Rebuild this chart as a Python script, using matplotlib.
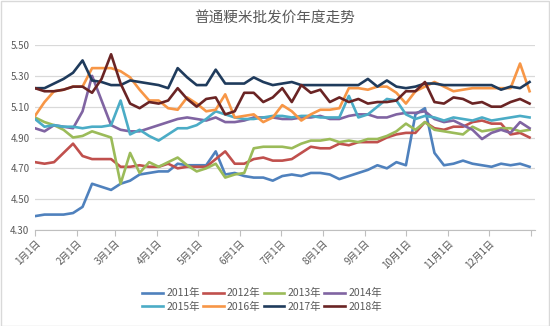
import matplotlib
matplotlib.use("Agg")
import matplotlib.pyplot as plt
from matplotlib.patches import Rectangle

plt.rcParams['font.family'] = ['Noto Sans CJK SC', 'DejaVu Sans']

title = "普通粳米批发价年度走势"

# weekly observations, day-of-year = 7 * index
years = ["2011年", "2012年", "2013年", "2014年", "2015年", "2016年", "2017年", "2018年"]

p2011 = [4.39, 4.40, 4.40, 4.40, 4.41, 4.45, 4.60, 4.58, 4.56, 4.60, 4.62, 4.66, 4.67, 4.68,
         4.68, 4.73, 4.72, 4.72, 4.72, 4.81, 4.66, 4.67, 4.65, 4.64, 4.64, 4.62, 4.65, 4.66,
         4.65, 4.67, 4.67, 4.66, 4.63, 4.65, 4.67, 4.69, 4.72, 4.70, 4.74, 4.72, 5.05, 5.09,
         4.80, 4.72, 4.73, 4.75, 4.73, 4.72, 4.71, 4.73, 4.72, 4.73, 4.71]
p2012 = [4.74, 4.73, 4.74, 4.80, 4.86, 4.78, 4.76, 4.76, 4.76, 4.71, 4.71, 4.72, 4.71, 4.71,
         4.73, 4.70, 4.71, 4.71, 4.71, 4.76, 4.81, 4.73, 4.73, 4.76, 4.77, 4.75, 4.75, 4.76,
         4.80, 4.84, 4.83, 4.83, 4.86, 4.85, 4.87, 4.87, 4.87, 4.90, 4.92, 4.93, 4.93, 5.00,
         4.96, 4.95, 4.97, 4.97, 5.00, 5.01, 4.99, 4.99, 4.92, 4.93, 4.90]
p2013 = [5.03, 5.00, 4.98, 4.95, 4.90, 4.91, 4.94, 4.92, 4.90, 4.60, 4.80, 4.67, 4.74, 4.71,
         4.74, 4.77, 4.72, 4.68, 4.70, 4.73, 4.64, 4.66, 4.67, 4.83, 4.84, 4.84, 4.84, 4.83,
         4.86, 4.88, 4.88, 4.89, 4.87, 4.88, 4.87, 4.89, 4.89, 4.91, 4.94, 4.99, 4.95, 5.00,
         4.95, 4.94, 4.93, 4.92, 4.97, 4.94, 4.95, 4.96, 4.96, 4.94, 4.95]
p2014 = [4.96, 4.94, 4.98, 4.97, 4.96, 5.07, 5.30, 5.14, 4.98, 4.95, 4.94, 4.94, 4.96, 4.98,
         5.00, 5.02, 5.03, 5.02, 5.01, 5.03, 5.00, 5.00, 5.01, 5.03, 5.03, 5.03, 5.02, 5.02,
         5.03, 5.03, 5.04, 5.02, 5.02, 5.04, 5.05, 5.05, 5.03, 5.03, 5.05, 5.06, 5.06, 5.07,
         5.02, 5.00, 5.01, 4.98, 4.95, 4.89, 4.93, 4.95, 4.93, 5.00, 4.96]
p2015 = [5.02, 4.97, 4.98, 4.97, 4.97, 4.96, 4.97, 4.97, 4.98, 5.14, 4.92, 4.95, 4.91, 4.88,
         4.92, 4.96, 4.96, 4.98, 5.02, 5.07, 5.05, 5.03, 5.02, 5.02, 5.03, 5.04, 5.04, 5.03,
         5.04, 5.04, 5.03, 5.03, 5.03, 5.17, 5.03, 5.05, 5.10, 5.15, 5.14, 5.05, 5.02, 5.04,
         5.03, 5.01, 5.03, 5.02, 5.01, 5.03, 5.01, 5.02, 5.03, 5.04, 5.03]
p2016 = [5.04, 5.13, 5.20, 5.21, 5.23, 5.23, 5.35, 5.35, 5.35, 5.33, 5.29, 5.21, 5.14, 5.14,
         5.09, 5.08, 5.16, 5.12, 5.07, 5.08, 5.18, 5.03, 5.04, 5.05, 5.00, 5.03, 5.11, 5.07,
         5.01, 5.05, 5.08, 5.08, 5.09, 5.22, 5.22, 5.21, 5.23, 5.23, 5.19, 5.12, 5.20, 5.23,
         5.26, 5.23, 5.20, 5.21, 5.22, 5.22, 5.22, 5.22, 5.22, 5.38, 5.20]
p2017 = [5.22, 5.22, 5.25, 5.28, 5.32, 5.40, 5.27, 5.26, 5.24, 5.24, 5.27, 5.26, 5.25, 5.24,
         5.22, 5.35, 5.29, 5.24, 5.24, 5.34, 5.25, 5.25, 5.25, 5.29, 5.26, 5.24, 5.25, 5.26,
         5.24, 5.24, 5.24, 5.24, 5.24, 5.24, 5.24, 5.28, 5.23, 5.27, 5.23, 5.22, 5.23, 5.25,
         5.25, 5.24, 5.24, 5.24, 5.24, 5.24, 5.24, 5.21, 5.23, 5.22, 5.26]
p2018 = [5.22, 5.20, 5.20, 5.21, 5.23, 5.23, 5.19, 5.28, 5.44, 5.25, 5.12, 5.09, 5.13, 5.12,
         5.14, 5.22, 5.15, 5.10, 5.15, 5.16, 5.05, 5.07, 5.19, 5.19, 5.13, 5.16, 5.22, 5.13,
         5.24, 5.19, 5.21, 5.13, 5.16, 5.13, 5.15, 5.12, 5.13, 5.13, 5.14, 5.20, 5.20, 5.26,
         5.13, 5.12, 5.16, 5.15, 5.12, 5.13, 5.10, 5.10, 5.13, 5.15, 5.12]

series = [p2011, p2012, p2013, p2014, p2015, p2016, p2017, p2018]
colors = ["#4F81BD", "#C0504D", "#9BBB59", "#8064A2", "#4BACC6", "#F79646", "#1F3B5C", "#6A2424"]

month_days = [0, 31, 59, 90, 120, 151, 181, 212, 243, 273, 304, 334, 365]
month_labels = ["1月1日", "2月1日", "3月1日", "4月1日", "5月1日", "6月1日", "7月1日",
                "8月1日", "9月1日", "10月1日", "11月1日", "12月1日", ""]
yticks = [4.30, 4.50, 4.70, 4.90, 5.10, 5.30, 5.50]

W, H = 550, 326
fig = plt.figure(figsize=(W / 100, H / 100), dpi=100)
fig.patch.set_facecolor("white")
fig.add_artist(Rectangle((0.5 / W, 0.5 / H), 1 - 1.5 / W, 1 - 1.5 / H, transform=fig.transFigure,
                         fill=False, edgecolor="#D9D9D9", linewidth=1.0))

ax = fig.add_axes([35 / W, 1 - 230 / H, (535 - 35) / W, (230 - 45) / H])
handles = []
for vals, c, lab in zip(series, colors, years):
    days = [7 * i for i in range(len(vals))]
    h, = ax.plot(days, vals, color=c, linewidth=1.9, label=lab, solid_joinstyle="round")
    handles.append(h)

ax.set_ylim(4.30, 5.50)
ax.set_xlim(0, 368)
ax.set_yticks(yticks)
ax.set_yticklabels([f"{v:.2f}" for v in yticks], fontsize=7, color="#595959")
ax.set_xticks(month_days)
ax.set_xticklabels(month_labels, fontsize=7, color="#595959", rotation=45,
                   ha="right", va="top", rotation_mode="anchor")
ax.grid(axis="y", color="#D9D9D9", linewidth=0.9)
ax.set_axisbelow(True)
for s in ["top", "right", "left"]:
    ax.spines[s].set_visible(False)
ax.spines["bottom"].set_color("#BFBFBF")
ax.tick_params(axis="y", length=0, pad=4)
ax.tick_params(axis="x", length=4, color="#BFBFBF", pad=2)

fig.text(0.5, 1 - 18 / H, title, ha="center", va="center", fontsize=10.5, color="#595959")

# legend laid out row by row: 2011-2014 on top, 2015-2018 below
order = [0, 4, 1, 5, 2, 6, 3, 7]
fig.legend([handles[i] for i in order], [years[i] for i in order],
           loc="center", bbox_to_anchor=(262 / W, 1 - 300 / H), ncol=4, frameon=False,
           fontsize=7.5, handlelength=2.0, handletextpad=0.3, columnspacing=0.3,
           labelspacing=0.3, labelcolor="#595959")

fig.savefig("out.png", dpi=100, facecolor="white")
